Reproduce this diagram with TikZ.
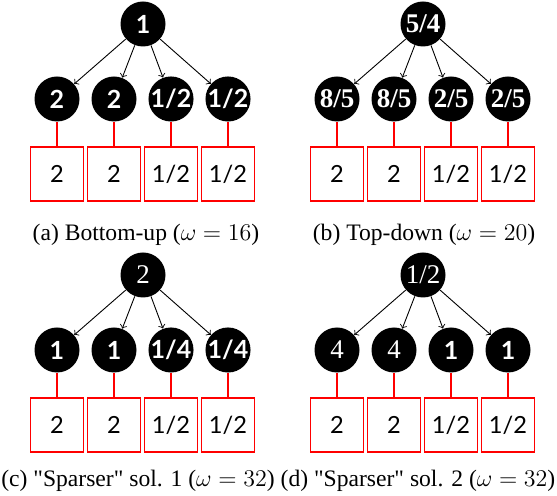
\documentclass[tikz,border=0pt]{standalone}
\usepackage{fontspec}
\setmainfont{Liberation Serif}[Ligatures=TeXOff]
\newfontfamily\labelsans{Lato}
\newcommand\serifnum{\rmfamily\fontsize{13.5}{15}\selectfont}

% one panel: name prefix, x shift, y shift, root label, four child labels
\newcommand\treepanel[8]{%
  \begin{scope}[shift={(#2,#3)}]
    \node[parent] (#1r) at (143,24) {#4};
    \node[parent] (#1c1) at (57,99)  {#5};
    \node[parent] (#1c2) at (114,99) {#6};
    \node[parent] (#1c3) at (171,99) {#7};
    \node[parent] (#1c4) at (228,99) {#8};
    \node[leaf] (#1b1) at (57,174)  {2};
    \node[leaf] (#1b2) at (114,174) {2};
    \node[leaf] (#1b3) at (171,174) {1/2};
    \node[leaf] (#1b4) at (228,174) {1/2};
    \draw[link] (#1c1) -- (#1b1);
    \draw[link] (#1c2) -- (#1b2);
    \draw[link] (#1c3) -- (#1b3);
    \draw[link] (#1c4) -- (#1b4);
    \draw[edge] (#1r) -- (#1c1);
    \draw[edge] (#1r) -- (#1c2);
    \draw[edge] (#1r) -- (#1c3);
    \draw[edge] (#1r) -- (#1c4);
  \end{scope}}

\begin{document}
\begin{tikzpicture}[x=0.5pt,y=-0.5pt,
  parent/.style={circle, fill=black, minimum size=22.5pt, inner sep=0pt,
    text=white, font=\labelsans\bfseries\fontsize{12.5}{14}\selectfont},
  leaf/.style={draw=red, line width=0.6pt, minimum width=26.5pt,
    minimum height=27pt, inner sep=0pt,
    font=\labelsans\fontsize{11.8}{13}\selectfont},
  edge/.style={->, line width=0.45pt},
  link/.style={draw=red, line width=0.6pt},
  caption/.style={font=\fontsize{11.8}{13}\selectfont}]
  \useasboundingbox (0,0) rectangle (557,496);

  \treepanel{a}{0}{0}{1}{2}{2}{1/2}{1/2}
  \treepanel{b}{280}{0}{{\serifnum\bfseries 5/4}}{{\serifnum\bfseries 8/5}}{{\serifnum\bfseries 8/5}}{{\serifnum\bfseries 2/5}}{{\serifnum\bfseries 2/5}}
  \treepanel{c}{0}{251}{{\serifnum\mdseries 2}}{1}{1}{1/4}{1/4}
  \treepanel{d}{280}{251}{{\serifnum\mdseries 1/2}}{{\serifnum\mdseries 4}}{{\serifnum\mdseries 4}}{1}{1}

  \node[caption] (capa) at (146,235) {(a) Bottom-up ($\omega = 16$)};
  \node[caption] (capb) at (424,235) {(b) Top-down ($\omega = 20$)};
  \node[caption] (capc) at (138,481) {(c) "Sparser" sol. 1 ($\omega = 32$)};
  \node[caption] (capd) at (418,481) {(d) "Sparser" sol. 2 ($\omega = 32$)};
\end{tikzpicture}
\end{document}
